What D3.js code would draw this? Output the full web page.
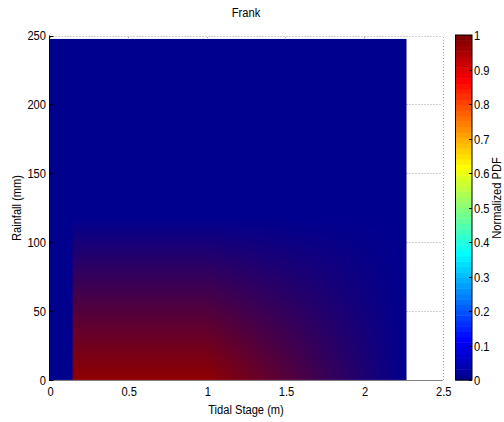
<!DOCTYPE html>
<html><head><meta charset="utf-8">
<script src="https://cdn.jsdelivr.net/npm/d3@7"></script>
<style>
html,body{margin:0;padding:0;background:#fff;}
text{font-family:"Liberation Sans",Arial,sans-serif;font-size:12.5px;fill:#000;}
</style></head>
<body>
<script>
// ---- data ----
const title = "Frank";
const xLabel = "Tidal Stage (m)";
const yLabel = "Rainfall (mm)";
const cLabel = "Normalized PDF";
const tidalStage = [0, 0.145, 0.15, 1.0, 2.27];   // grid nodes (m)
const rainfall = [0, 118, 247.5];                 // grid nodes (mm)
const pdfRain0 = [0, 0, 0.98, 0.98, 0];           // normalized PDF at rainfall = 0
const pdfRainMid = [0, 0, 0, 0, 0];
const pdfRainTop = [0, 0, 0, 0, 0];
const normPDF = [pdfRain0, pdfRainMid, pdfRainTop];
const xTicks = [0, 0.5, 1, 1.5, 2, 2.5];
const yTicks = [0, 50, 100, 150, 200, 250];
const cTicks = [0, 0.1, 0.2, 0.3, 0.4, 0.5, 0.6, 0.7, 0.8, 0.9, 1];

// ---- MATLAB jet(64) ----
function jetMap(m) {
  const n = Math.ceil(m / 4);
  const u = [];
  for (let i = 1; i <= n; i++) u.push(i / n);
  for (let i = 1; i <= n - 1; i++) u.push(1);
  for (let i = n; i >= 1; i--) u.push(i / n);
  const J = Array.from({length: m}, () => [0, 0, 0]);
  const off = Math.ceil(n / 2) - (m % 4 === 1 ? 1 : 0);
  u.forEach((val, k) => {
    const g = off + k + 1, r = g + n, b = g - n;
    if (r >= 1 && r <= m) J[r - 1][0] = val;
    if (g >= 1 && g <= m) J[g - 1][1] = val;
    if (b >= 1 && b <= m) J[b - 1][2] = val;
  });
  return J.map(c => c.map(v => Math.round(v * 255)));
}
const JET = jetMap(64);
const colorIndex = d3.scaleQuantize().domain([0, 1]).range(d3.range(64));
const jetRGB = v => JET[colorIndex(Math.max(0, Math.min(1, v)))];

// ---- layout ----
const W = 504, H = 422;
const SX = 0.89; // narrow glyphs as in the reference
const x = d3.scaleLinear().domain([0, 2.5]).range([49.5, 442.7]);
const y = d3.scaleLinear().domain([0, 250]).range([380, 35.5]);
const cy = d3.scaleLinear().domain([0, 1]).range([380, 35]);
const cbX = 455.5, cbW = 16.5;

const svg = d3.select("body").append("svg")
  .attr("width", W).attr("height", H)
  .style("display", "block");
svg.append("rect").attr("width", W).attr("height", H).attr("fill", "#fff");

function label(g, tx, ty, str, anchor, rot) {
  return g.append("text")
    .attr("transform", `translate(${tx},${ty})${rot ? ` rotate(${rot})` : ""} scale(${SX},1)`)
    .attr("text-anchor", anchor || "start").text(str);
}

// grid (dotted)
const grid = svg.append("g").attr("stroke", "#a0a0a0").attr("stroke-width", 1)
  .attr("stroke-dasharray", "1,2").attr("fill", "none");
yTicks.forEach(t => grid.append("line")
  .attr("x1", x(0)).attr("x2", x(2.5))
  .attr("y1", Math.round(y(t)) + 0.5).attr("y2", Math.round(y(t)) + 0.5));
xTicks.forEach(t => grid.append("line")
  .attr("x1", Math.round(x(t)) + 0.5).attr("x2", Math.round(x(t)) + 0.5)
  .attr("y1", y(0)).attr("y2", y(250)));

// heatmap (Gouraud-like RGB interpolation of vertex colours)
const x0p = x(tidalStage[0]), x1p = x(tidalStage[tidalStage.length - 1]);
const y0p = y(rainfall[rainfall.length - 1]), y1p = y(rainfall[0]);
const cw = Math.round(x1p - x0p), ch = Math.round(y1p - y0p);
const canvas = document.createElement("canvas");
canvas.width = cw; canvas.height = ch;
const ctx = canvas.getContext("2d");
const img = ctx.createImageData(cw, ch);
const vcol = normPDF.map(row => row.map(jetRGB));
function findCell(arr, v) {
  let i = d3.bisectRight(arr, v) - 1;
  return Math.max(0, Math.min(arr.length - 2, i));
}
for (let j = 0; j < ch; j++) {
  const rv = y.invert(y0p + j + 0.5);
  const yi = findCell(rainfall, rv);
  const tv = Math.max(0, Math.min(1, (rv - rainfall[yi]) / (rainfall[yi + 1] - rainfall[yi])));
  for (let i = 0; i < cw; i++) {
    const xv = x.invert(x0p + i + 0.5);
    const xi = findCell(tidalStage, xv);
    const tu = Math.max(0, Math.min(1, (xv - tidalStage[xi]) / (tidalStage[xi + 1] - tidalStage[xi])));
    const c00 = vcol[yi][xi], c10 = vcol[yi][xi + 1], c01 = vcol[yi + 1][xi], c11 = vcol[yi + 1][xi + 1];
    const k = (j * cw + i) * 4;
    for (let c = 0; c < 3; c++) {
      img.data[k + c] = Math.round((1 - tu) * (1 - tv) * c00[c] + tu * (1 - tv) * c10[c] + (1 - tu) * tv * c01[c] + tu * tv * c11[c]);
    }
    img.data[k + 3] = 255;
  }
}
ctx.putImageData(img, 0, 0);
svg.append("image").attr("x", x0p).attr("y", y0p).attr("width", cw).attr("height", ch)
  .attr("preserveAspectRatio", "none")
  .attr("href", canvas.toDataURL());

// axes lines
svg.append("line").attr("x1", x(0)).attr("x2", x(2.5)).attr("y1", 380.5).attr("y2", 380.5)
  .attr("stroke", "#808080");
svg.append("line").attr("x1", 49.5).attr("x2", 49.5).attr("y1", y(250)).attr("y2", 381)
  .attr("stroke", "#000");
yTicks.forEach(t => svg.append("line").attr("x1", 49.5).attr("x2", 53.5)
  .attr("y1", Math.round(y(t)) + 0.5).attr("y2", Math.round(y(t)) + 0.5).attr("stroke", "#000"));

// tick labels
const tl = svg.append("g");
yTicks.forEach(d => label(tl, 46, y(d) + 4.5, d, "end"));
xTicks.forEach(d => label(tl, x(d) + 1, 396, d, "middle"));

// titles
label(svg, 246, 17, title, "middle");
label(svg, 246, 414, xLabel, "middle");
label(svg, 21, 208, yLabel, "middle", -90);

// colorbar
const cb = svg.append("g");
cb.selectAll("rect").data(d3.range(64)).join("rect")
  .attr("x", cbX).attr("width", cbW)
  .attr("y", d => cy((d + 1) / 64))
  .attr("height", d => cy(d / 64) - cy((d + 1) / 64) + 0.5)
  .attr("fill", d => `rgb(${JET[d].join(",")})`);
cb.append("rect").attr("x", cbX).attr("y", cy(1)).attr("width", cbW).attr("height", cy(0) - cy(1))
  .attr("fill", "none").attr("stroke", "#000");
cTicks.forEach(t => {
  cb.append("line").attr("x1", cbX + cbW - 3).attr("x2", cbX + cbW)
    .attr("y1", Math.round(cy(t)) + 0.5).attr("y2", Math.round(cy(t)) + 0.5).attr("stroke", "#000");
  label(cb, cbX + cbW + 2, cy(t) + 5, t, "start");
});
label(svg, 501, 198, cLabel, "middle", -90);
</script>
</body></html>
